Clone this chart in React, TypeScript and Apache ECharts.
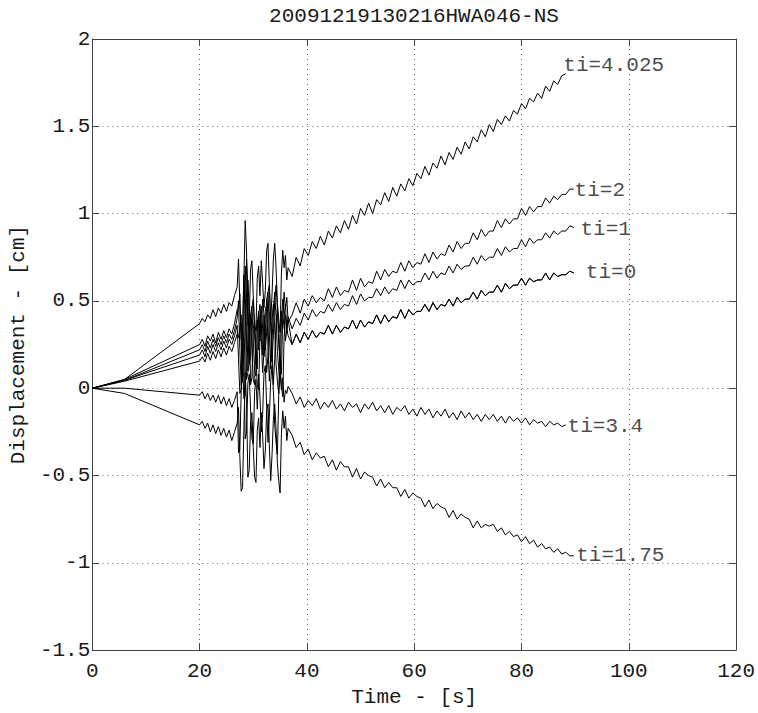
import React, { useEffect, useRef } from "react";
import * as echarts from "echarts";

const TITLE = "20091219130216HWA046-NS";
const X_NAME = "Time - [s]";
const Y_NAME = "Displacement - [cm]";
const X_MIN = 0, X_MAX = 120, X_STEP = 20;
const Y_MIN = -1.5, Y_MAX = 2, Y_STEP = 0.5;

// time samples: two start points, then three sampled segments [from, to, step]
const TIME_START = [0, 6];
const TIME_SEGMENTS = [[20, 27, 0.5], [27.25, 36.5, 0.25], [37.25, 89.75, 0.75]];

const SERIES_NAMES = ["ti=4.025", "ti=2", "ti=1", "ti=0", "ti=?", "ti=3.4", "ti=1.75"];

const TI_4025 = [0, 0.05,
  0.37, 0.40, 0.38, 0.42, 0.40, 0.45, 0.41, 0.46, 0.43, 0.48, 0.44, 0.49, 0.47, 0.53, 0.58,
  0.74, 0.48, 0.28, 0.30, 0.63, 0.96, 0.78, 0.36, 0.40, 0.68, 0.73, 0.53, 0.36, 0.33, 0.63, 0.70, 0.53, 0.73, 0.60,
  0.46, 0.56, 0.79, 0.83, 0.59, 0.39, 0.54, 0.74, 0.83, 0.69, 0.49, 0.39, 0.32, 0.66, 0.79, 0.69, 0.76, 0.62, 0.69,
  0.64, 0.75, 0.70, 0.80, 0.76, 0.84, 0.80, 0.87, 0.82, 0.90,
  0.86, 0.93, 0.89, 0.96, 0.91, 0.99, 0.94, 1.03, 0.99, 1.06,
  1.00, 1.08, 1.05, 1.12, 1.07, 1.15, 1.10, 1.17, 1.13, 1.20,
  1.16, 1.23, 1.20, 1.27, 1.22, 1.29, 1.26, 1.33, 1.28, 1.35,
  1.31, 1.38, 1.34, 1.41, 1.37, 1.44, 1.41, 1.48, 1.44, 1.51,
  1.47, 1.54, 1.51, 1.56, 1.53, 1.59, 1.57, 1.63, 1.60, 1.66,
  1.64, 1.69, 1.66, 1.73, 1.70, 1.76, 1.74, 1.79, 1.80, null, null];

const TI_2 = [0, 0.05,
  0.25, 0.28, 0.24, 0.30, 0.27, 0.31, 0.26, 0.32, 0.28, 0.33, 0.29, 0.34, 0.31, 0.37, 0.45,
  0.46, 0.54, 0.26, 0.06, 0.08, 0.41, 0.74, 0.56, 0.14, 0.18, 0.46, 0.51, 0.31, 0.14, 0.11, 0.41, 0.48, 0.31, 0.51,
  0.42, 0.22, 0.32, 0.55, 0.59, 0.35, 0.15, 0.30, 0.50, 0.59, 0.45, 0.25, 0.15, 0.08, 0.42, 0.55, 0.45, 0.52, 0.38,
  0.42, 0.49, 0.43, 0.51, 0.47, 0.53, 0.49, 0.52, 0.50, 0.57,
  0.52, 0.58, 0.53, 0.56, 0.55, 0.62, 0.56, 0.63, 0.58, 0.61,
  0.60, 0.67, 0.62, 0.68, 0.64, 0.67, 0.66, 0.72, 0.67, 0.73,
  0.69, 0.72, 0.71, 0.77, 0.72, 0.78, 0.74, 0.77, 0.76, 0.82,
  0.78, 0.84, 0.80, 0.83, 0.83, 0.89, 0.85, 0.91, 0.87, 0.90,
  0.90, 0.96, 0.92, 0.97, 0.94, 0.97, 0.97, 1.03, 0.99, 1.04,
  1.01, 1.04, 1.04, 1.09, 1.06, 1.10, 1.08, 1.11, 1.11, 1.14, 1.14];

const TI_1 = [0, 0.045,
  0.22, 0.25, 0.21, 0.27, 0.23, 0.28, 0.24, 0.29, 0.25, 0.30, 0.26, 0.31, 0.28, 0.33, 0.40,
  0.50, 0.22, 0.02, 0.04, 0.37, 0.70, 0.52, 0.10, 0.14, 0.42, 0.47, 0.27, 0.10, 0.07, 0.37, 0.44, 0.27, 0.47, 0.34,
  0.18, 0.28, 0.51, 0.55, 0.31, 0.11, 0.26, 0.46, 0.55, 0.41, 0.21, 0.11, 0.04, 0.38, 0.51, 0.41, 0.48, 0.34, 0.41,
  0.34, 0.40, 0.36, 0.43, 0.39, 0.45, 0.41, 0.44, 0.43, 0.48,
  0.44, 0.49, 0.45, 0.48, 0.47, 0.53, 0.48, 0.54, 0.50, 0.52,
  0.52, 0.57, 0.53, 0.58, 0.54, 0.57, 0.56, 0.62, 0.57, 0.62,
  0.59, 0.61, 0.61, 0.66, 0.62, 0.67, 0.63, 0.66, 0.65, 0.70,
  0.66, 0.71, 0.68, 0.70, 0.70, 0.75, 0.71, 0.76, 0.73, 0.75,
  0.75, 0.80, 0.76, 0.81, 0.78, 0.80, 0.80, 0.85, 0.81, 0.86,
  0.83, 0.85, 0.85, 0.89, 0.86, 0.90, 0.88, 0.90, 0.90, 0.93, 0.92];

const TI_0 = [0, 0.045,
  0.19, 0.22, 0.18, 0.24, 0.20, 0.25, 0.21, 0.26, 0.22, 0.27, 0.23, 0.28, 0.25, 0.30, 0.36,
  0.17, -0.03, -0.01, 0.32, 0.65, 0.47, 0.05, 0.09, 0.37, 0.42, 0.22, 0.05, 0.02, 0.32, 0.39, 0.22, 0.42, 0.29, 0.09,
  0.21, 0.44, 0.48, 0.24, 0.04, 0.19, 0.39, 0.48, 0.34, 0.14, 0.04, -0.03, 0.31, 0.44, 0.34, 0.41, 0.27, 0.34, 0.30,
  0.25, 0.31, 0.26, 0.32, 0.28, 0.33, 0.29, 0.32, 0.31, 0.36,
  0.31, 0.36, 0.32, 0.35, 0.34, 0.39, 0.34, 0.39, 0.35, 0.38,
  0.37, 0.42, 0.37, 0.42, 0.38, 0.41, 0.40, 0.45, 0.40, 0.45,
  0.42, 0.44, 0.44, 0.48, 0.44, 0.49, 0.45, 0.48, 0.47, 0.51,
  0.47, 0.52, 0.49, 0.51, 0.51, 0.55, 0.51, 0.56, 0.53, 0.55,
  0.55, 0.59, 0.55, 0.60, 0.57, 0.59, 0.59, 0.63, 0.59, 0.63,
  0.61, 0.62, 0.62, 0.66, 0.62, 0.66, 0.64, 0.65, 0.65, 0.67, 0.66];

// fifth, unlabeled trace: separate before the shaking, merges with ti=0 after it
const TI_UNLABELED = [0, 0.04,
  0.155, 0.18, 0.15, 0.20, 0.16, 0.21, 0.17, 0.22, 0.18, 0.23, 0.19, 0.24, 0.21, 0.26, 0.31,
  0.29, 0.34, 0.42, 0.14, -0.06, -0.04, 0.29, 0.62, 0.44, 0.02, 0.06, 0.34, 0.39, 0.19, 0.02, -0.01, 0.29, 0.36, 0.19,
  0.42, 0.29, 0.09, 0.19, 0.42, 0.46, 0.22, 0.02, 0.17, 0.37, 0.46, 0.32, 0.12, 0.02, -0.05, 0.29, 0.42, 0.32, 0.39,
  0.25, 0.31, 0.26, 0.32, 0.28, 0.33, 0.29, 0.32, 0.31, 0.36,
  0.31, 0.36, 0.32, 0.35, 0.34, 0.39, 0.34, 0.39, 0.35, 0.38,
  0.37, 0.42, 0.37, 0.42, 0.38, 0.41, 0.40, 0.45, 0.40, 0.45,
  0.42, 0.44, 0.44, 0.48, 0.44, 0.49, 0.45, 0.48, 0.47, 0.51,
  0.47, 0.52, 0.49, 0.51, 0.51, 0.55, 0.51, 0.56, 0.53, 0.55,
  0.55, 0.59, 0.55, 0.60, 0.57, 0.59, 0.59, 0.63, 0.59, 0.63,
  0.61, 0.62, 0.62, 0.66, 0.62, 0.66, 0.64, 0.65, 0.65, 0.67, 0.66];

const TI_34 = [0, 0.0,
  -0.04, -0.02, -0.06, -0.03, -0.07, -0.04, -0.08, -0.04, -0.09, -0.05, -0.10, -0.06, -0.11, -0.07, -0.02,
  -0.37, -0.35, -0.02, 0.31, 0.13, -0.29, -0.25, 0.03, 0.08, -0.12, -0.29, -0.32, -0.02, 0.05, -0.12, 0.08, -0.05, -0.25, -0.15,
  0.09, 0.13, -0.11, -0.31, -0.16, 0.04, 0.13, -0.01, -0.21, -0.31, -0.38, -0.04, 0.09, -0.01, 0.06, -0.08, -0.01, -0.03, 0.01,
  -0.03, -0.09, -0.05, -0.11, -0.07, -0.10, -0.06, -0.12, -0.08, -0.11,
  -0.07, -0.12, -0.09, -0.13, -0.08, -0.11, -0.09, -0.14, -0.09, -0.12,
  -0.08, -0.13, -0.10, -0.14, -0.10, -0.15, -0.11, -0.13, -0.10, -0.15,
  -0.12, -0.16, -0.11, -0.15, -0.12, -0.17, -0.13, -0.16, -0.12, -0.17,
  -0.14, -0.18, -0.13, -0.17, -0.14, -0.18, -0.15, -0.19, -0.15, -0.18,
  -0.15, -0.19, -0.16, -0.20, -0.16, -0.19, -0.17, -0.20, -0.17, -0.21,
  -0.18, -0.20, -0.19, -0.22, -0.19, -0.21, -0.20, -0.22, -0.21, null, null];

const TI_175 = [0, -0.03,
  -0.21, -0.19, -0.23, -0.20, -0.25, -0.21, -0.26, -0.22, -0.27, -0.23, -0.28, -0.24, -0.30, -0.25, -0.20,
  -0.11, -0.39, -0.59, -0.57, -0.24, 0.09, -0.09, -0.51, -0.47, -0.19, -0.14, -0.34, -0.51, -0.54, -0.24, -0.17, -0.34, -0.14, -0.27,
  -0.46, -0.36, -0.13, -0.09, -0.33, -0.53, -0.38, -0.18, -0.09, -0.23, -0.43, -0.53, -0.60, -0.26, -0.13, -0.23, -0.16, -0.30, -0.23,
  -0.27, -0.34, -0.31, -0.38, -0.35, -0.41, -0.37, -0.40, -0.39, -0.45,
  -0.41, -0.47, -0.42, -0.45, -0.45, -0.51, -0.46, -0.52, -0.48, -0.50,
  -0.51, -0.56, -0.52, -0.57, -0.54, -0.57, -0.57, -0.62, -0.58, -0.63,
  -0.60, -0.62, -0.63, -0.68, -0.64, -0.69, -0.66, -0.68, -0.69, -0.74,
  -0.70, -0.75, -0.72, -0.74, -0.75, -0.80, -0.76, -0.80, -0.78, -0.79,
  -0.78, -0.82, -0.80, -0.84, -0.82, -0.85, -0.84, -0.88, -0.85, -0.89,
  -0.87, -0.91, -0.89, -0.92, -0.91, -0.94, -0.92, -0.95, -0.94, -0.96, -0.96];

const CURVES = [TI_4025, TI_2, TI_1, TI_0, TI_UNLABELED, TI_34, TI_175];

const LABEL_TEXT = ["ti=4.025", "ti=2", "ti=1", "ti=0", "ti=3.4", "ti=1.75"];
const LABEL_T = [87.7, 89.8, 90.9, 91.9, 88.5, 90.1];
const LABEL_Y = [1.85, 1.13, 0.91, 0.66, -0.22, -0.96];

const TIME: number[] = [...TIME_START];
for (const [a, b, s] of TIME_SEGMENTS) {
  for (let k = 0; a + k * s <= b + 1e-9; k++) TIME.push(+(a + k * s).toFixed(2));
}

const FONT = "'Liberation Mono', 'DejaVu Sans Mono', monospace";
const INK = "#1a1a1a";
const AXIS = "#444";

export default function App() {
  const ref = useRef<HTMLDivElement>(null);
  useEffect(() => {
    const chart = echarts.init(ref.current!, null, { renderer: "svg" });
    const axisLine = { show: true, onZero: false, lineStyle: { color: AXIS, width: 1 } };
    const axisTick = { show: true, inside: true, length: 7, lineStyle: { color: AXIS, width: 1 } };
    const split = { show: true, lineStyle: { color: "#666", width: 1, type: [1, 4] } };
    const lines = CURVES.map((vals, i) => ({
      type: "line",
      name: SERIES_NAMES[i],
      data: TIME.map((t, j) => [t, vals[j] === null ? null : vals[j]]),
      showSymbol: false,
      symbol: "none",
      connectNulls: false,
      silent: true,
      lineStyle: { color: "#000", width: 1 },
      z: 3,
    }));
    chart.setOption({
      animation: false,
      backgroundColor: "#fff",
      grid: { left: 91, top: 39, width: 646, height: 619, containLabel: false },
      graphic: [
        {
          type: "text",
          x: 414,
          y: 16,
          style: { text: TITLE, fontFamily: FONT, fontSize: 21, fill: INK, textAlign: "center", textVerticalAlign: "middle" },
        },
      ],
      xAxis: [
        {
          type: "value", min: X_MIN, max: X_MAX, interval: X_STEP, position: "bottom",
          axisLine, axisTick,
          axisLabel: { fontFamily: FONT, fontSize: 21, color: INK, margin: 11 },
          splitLine: split,
          name: X_NAME, nameLocation: "middle", nameGap: 35,
          nameTextStyle: { fontFamily: FONT, fontSize: 21, color: INK },
        },
        {
          type: "value", min: X_MIN, max: X_MAX, interval: X_STEP, position: "top",
          axisLine, axisTick, axisLabel: { show: false }, splitLine: { show: false },
        },
      ],
      yAxis: [
        {
          type: "value", min: Y_MIN, max: Y_MAX, interval: Y_STEP, position: "left",
          axisLine, axisTick,
          axisLabel: { fontFamily: FONT, fontSize: 21, color: INK, margin: 2 },
          splitLine: split,
          name: Y_NAME, nameLocation: "middle", nameGap: 50,
          nameTextStyle: { fontFamily: FONT, fontSize: 21, color: INK },
        },
        {
          type: "value", min: Y_MIN, max: Y_MAX, interval: Y_STEP, position: "right",
          axisLine, axisTick, axisLabel: { show: false }, splitLine: { show: false },
        },
      ],
      series: [
        ...lines,
        {
          type: "scatter",
          silent: true,
          symbolSize: 1,
          itemStyle: { color: "transparent" },
          z: 5,
          data: LABEL_TEXT.map((s, i) => [LABEL_T[i], LABEL_Y[i]]),
          label: {
            show: true,
            position: "right",
            distance: 0,
            formatter: (p: any) => LABEL_TEXT[p.dataIndex],
            fontFamily: FONT,
            fontSize: 21,
            color: INK,
          },
        },
      ],
    });
    return () => chart.dispose();
  }, []);
  return (
    <div
      ref={ref}
      style={{ position: "fixed", left: 0, top: 0, width: 758, height: 713, background: "#fff" }}
    />
  );
}
